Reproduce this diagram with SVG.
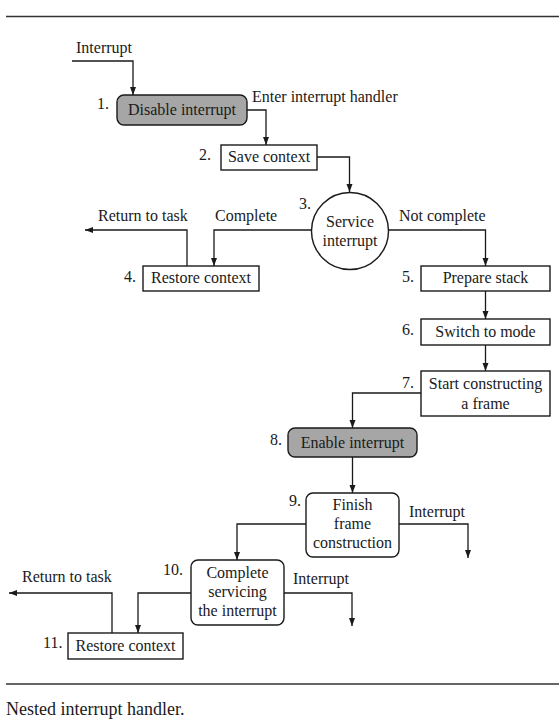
<svg xmlns="http://www.w3.org/2000/svg" width="559" height="721" viewBox="0 0 559 721">
<style>
text{font-family:"Liberation Serif","Times New Roman",serif;font-size:16px;fill:#1a1a1a}
.c{text-anchor:middle}
.box{fill:#fff;stroke:#1a1a1a;stroke-width:1.4}
.gray{fill:#a6a6a6;stroke:#1a1a1a;stroke-width:1.4}
.con{fill:none;stroke:#1a1a1a;stroke-width:1.3;marker-end:url(#ah)}
.rule{stroke:#333;stroke-width:1.5}
</style>
<defs>
<marker id="ah" markerUnits="userSpaceOnUse" markerWidth="8" markerHeight="8" refX="8" refY="3" orient="auto">
<path d="M0,0 L8,3 L0,6 z" fill="#1a1a1a"/>
</marker>
</defs>
<rect width="559" height="721" fill="#fff"/>
<line class="rule" x1="6" y1="16.5" x2="559" y2="16.5"/>
<line class="rule" x1="6" y1="684" x2="559" y2="684"/>
<text x="6" y="715" style="font-size:18px">Nested interrupt handler.</text>

<g id="connectors">
<path class="con" d="M72,61 H133 V95"/>
<path class="con" d="M247,110 H266 V145"/>
<path class="con" d="M317,157 H349.5 V192"/>
<path class="con" d="M312,230 H214 V266"/>
<path class="con" d="M187,266 V230 H85"/>
<path class="con" d="M389,230 H485.5 V266"/>
<path class="con" d="M485.5,291 V319"/>
<path class="con" d="M485.5,345 V371"/>
<path class="con" d="M421,393 H352.5 V428"/>
<path class="con" d="M352.5,457 V493"/>
<path class="con" d="M306,524 H237 V560"/>
<path class="con" d="M399,524 H468 V558"/>
<path class="con" d="M191,593 H138 V633"/>
<path class="con" d="M284,593 H352 V626"/>
<path class="con" d="M112,633 V593 H9"/>
<text x="76" y="53">Interrupt</text>
<text x="252" y="102">Enter interrupt handler</text>
<text x="98" y="221">Return to task</text>
<text x="215" y="221">Complete</text>
<text x="399" y="221">Not complete</text>
<text x="409" y="517">Interrupt</text>
<text x="293" y="584">Interrupt</text>
<text x="22" y="582">Return to task</text>
</g>

<g id="n1">
<text x="97" y="109">1.</text>
<rect class="gray" x="117" y="95" width="130" height="30" rx="7"/>
<text class="c" x="182" y="115">Disable interrupt</text>
</g>
<g id="n2">
<text x="199" y="160">2.</text>
<rect class="box" x="221" y="145" width="96" height="25"/>
<text class="c" x="269" y="162">Save context</text>
</g>
<g id="n3">
<text x="299" y="209">3.</text>
<circle class="box" cx="350" cy="231" r="38.5"/>
<text class="c" x="350" y="227">Service</text>
<text class="c" x="350" y="246">interrupt</text>
</g>
<g id="n4">
<text x="124" y="282">4.</text>
<rect class="box" x="143" y="266" width="116" height="25"/>
<text class="c" x="201" y="283">Restore context</text>
</g>
<g id="n5">
<text x="402" y="282">5.</text>
<rect class="box" x="421" y="266" width="129" height="25"/>
<text class="c" x="485.5" y="283">Prepare stack</text>
</g>
<g id="n6">
<text x="402" y="335">6.</text>
<rect class="box" x="421" y="319" width="129" height="26"/>
<text class="c" x="485.5" y="337">Switch to mode</text>
</g>
<g id="n7">
<text x="402" y="388">7.</text>
<rect class="box" x="421" y="371" width="129" height="45"/>
<text class="c" x="485.5" y="389">Start constructing</text>
<text class="c" x="485.5" y="409">a frame</text>
</g>
<g id="n8">
<text x="270" y="445">8.</text>
<rect class="gray" x="288" y="428" width="129" height="29" rx="7"/>
<text class="c" x="352.5" y="448">Enable interrupt</text>
</g>
<g id="n9">
<text x="289" y="506">9.</text>
<rect class="box" x="306" y="493" width="93" height="64" rx="7"/>
<text class="c" x="352.5" y="510">Finish</text>
<text class="c" x="352.5" y="529">frame</text>
<text class="c" x="352.5" y="548">construction</text>
</g>
<g id="n10">
<text x="163" y="575">10.</text>
<rect class="box" x="191" y="560" width="93" height="65" rx="7"/>
<text class="c" x="237.5" y="578">Complete</text>
<text class="c" x="237.5" y="597">servicing</text>
<text class="c" x="237.5" y="616">the interrupt</text>
</g>
<g id="n11">
<text x="43" y="648">11.</text>
<rect class="box" x="68" y="633" width="115" height="26"/>
<text class="c" x="125.5" y="651">Restore context</text>
</g>
</svg>
